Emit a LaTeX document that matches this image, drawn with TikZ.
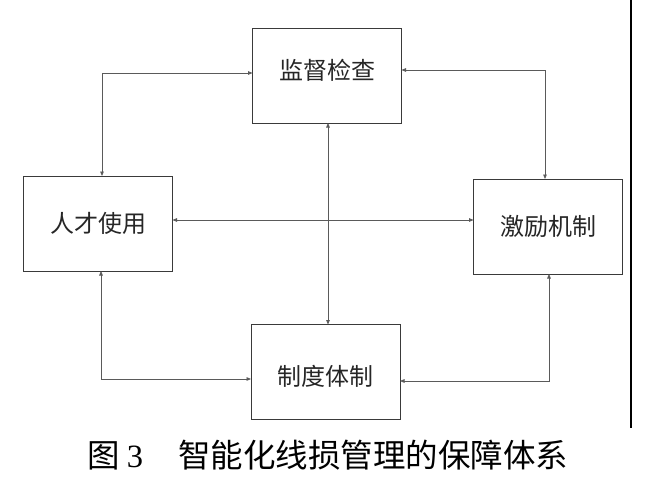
\documentclass[tikz,border=0pt]{standalone}
\usepackage{fontspec}
\setmainfont{Liberation Serif}
\newfontfamily\cjk{Noto Sans CJK SC}
\usetikzlibrary{arrows.meta}
\definecolor{boxline}{HTML}{3A3A3A}
\definecolor{conline}{HTML}{5A5A5A}
\tikzset{
  boxnode/.style={draw=boxline, line width=1pt, rectangle, minimum width=149pt,
    minimum height=95pt, inner sep=0pt, outer sep=0pt,
    font=\cjk\fontsize{24pt}{24pt}\selectfont, text=black!85,
    text height=21pt, text depth=3pt},
  conn/.style={draw=conline, line width=0.8pt,
    {Triangle[length=4.5pt,width=3.6pt]}-{Triangle[length=4.5pt,width=3.6pt]}},
  captionnode/.style={font=\fontsize{32.5pt}{34pt}\selectfont, text=black, inner sep=0pt}
}
\begin{document}
\begin{tikzpicture}[x=1pt,y=-1pt]
\useasboundingbox (0,0) rectangle (648,479);
\node[boxnode, text depth=14pt] (jd) at (327,75.5) {监督检查};
\node[boxnode] (rc) at (98,223.5) {人才使用};
\node[boxnode] (jl) at (548,226.5) {激励机制};
\node[boxnode, text height=29pt] (zd) at (325.5,372) {制度体制};
\draw[conn] (rc.north -| 102,0) |- (jd.west |- 0,73);
\draw[conn] (jd.east |- 0,70) -| (jl.north -| 545,0);
\draw[conn] (rc.east |- 0,220) -- (jl.west |- 0,220);
\draw[conn] (jd.south -| 328,0) -- (zd.north -| 328,0);
\draw[conn] (rc.south -| 101,0) |- (zd.west |- 0,379);
\draw[conn] (jl.south -| 549,0) |- (zd.east |- 0,381);
\coordinate (rt) at (631,0);
\coordinate (rb) at (631,428);
\draw[black, line width=1.2pt] (rt) -- (rb);
\node[captionnode] (cap) at (328,455) {{\cjk 图}\hspace{0.2em}3\hspace{1.08em}{\cjk 智能化线损管理的保障体系}};
\end{tikzpicture}
\end{document}
